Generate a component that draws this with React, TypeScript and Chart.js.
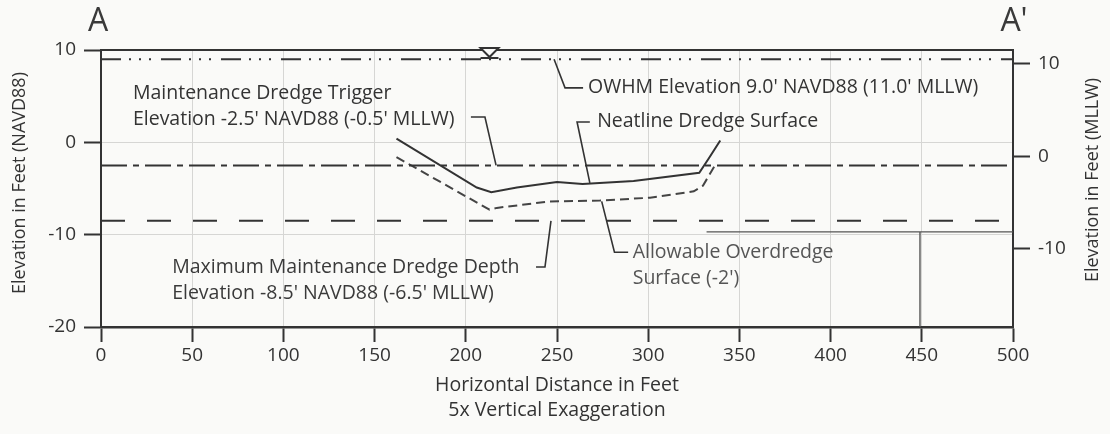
import React, { useEffect, useRef } from 'react';
import { Chart, registerables } from 'chart.js';

Chart.register(...registerables);

// ---- axis ticks ----
const xTickValues = [0, 50, 100, 150, 200, 250, 300, 350, 400, 450, 500];
const leftTickValues = [-20, -10, 0, 10];
const rightTickValues = [-10, 0, 10];

// ---- reference elevation lines (NAVD88) ----
const owhmX = [0, 500];
const owhmY = [9, 9];
const triggerX = [0, 500];
const triggerY = [-2.5, -2.5];
const maxDepthX = [0, 500];
const maxDepthY = [-8.5, -8.5];

// ---- dredge surfaces ----
const neatlineX = [162, 206, 214, 228, 250, 264, 292, 328, 333, 339.5];
const neatlineY = [0.4, -4.9, -5.4, -4.9, -4.3, -4.5, -4.2, -3.3, -1.8, 0.2];
const overdredgeX = [162, 213, 217, 246, 273.5, 301, 325, 330, 337.5];
const overdredgeY = [-1.6, -7.3, -7.1, -6.4, -6.3, -6.0, -5.3, -4.7, -2.2];

// ---- background structure lines ----
const structureX = [332, 500];
const structureY = [-9.7, -9.7];
const wallX = [449, 449];
const wallY = [-9.7, -20];

// ---- annotations (data units) ----
const annoText = [
  ['Maintenance Dredge Trigger', "Elevation -2.5' NAVD88 (-0.5' MLLW)"],
  ["OWHM Elevation 9.0' NAVD88 (11.0' MLLW)"],
  ['Neatline Dredge Surface'],
  ['Allowable Overdredge', "Surface (-2')"],
  ['Maximum Maintenance Dredge Depth', "Elevation -8.5' NAVD88 (-6.5' MLLW)"],
];
const annoX = [17.5, 267, 272, 291.5, 39];
const annoY = [5.3, 5.9, 2.3, -11.9, -13.6];
const annoColor = ['#333', '#333', '#333', '#555', '#3a3a3a'];

const leaderX = [
  [202.8, 210.5, 216.6],
  [264.3, 254.4, 248.4],
  [268, 261, 268],
  [289, 281.5, 274.5],
  [238.5, 243.4, 246.7],
];
const leaderY = [
  [2.74, 2.74, -2.5],
  [5.9, 5.9, 9.0],
  [2.2, 2.2, -4.4],
  [-11.9, -11.9, -6.4],
  [-13.5, -13.5, -8.5],
];

const waterMarkX = 213;
const waterMarkY = 10;

const FONT = "'Open Sans', 'Noto Sans', sans-serif";
const INK = '#333';

const pts = (xs: number[], ys: number[]) => xs.map((x, i) => ({ x, y: ys[i] }));

const decorPlugin = {
  id: 'decor',
  beforeDraw(chart: any) {
    const { ctx, width, height } = chart;
    ctx.save();
    ctx.fillStyle = '#fafaf8';
    ctx.fillRect(0, 0, width, height);
    ctx.restore();
  },
  afterDatasetsDraw(chart: any) {
    const { ctx, chartArea } = chart;
    const xs = chart.scales.x;
    const ys = chart.scales.y;
    ctx.save();
    // top border
    ctx.strokeStyle = INK;
    ctx.lineWidth = 2;
    ctx.beginPath();
    ctx.moveTo(chartArea.left, chartArea.top);
    ctx.lineTo(chartArea.right, chartArea.top);
    ctx.stroke();

    // water level marker
    const mx = xs.getPixelForValue(waterMarkX);
    const my = ys.getPixelForValue(waterMarkY);
    ctx.lineWidth = 2;
    ctx.beginPath();
    ctx.moveTo(mx - 9, my - 2);
    ctx.lineTo(mx + 9, my - 2);
    ctx.lineTo(mx, my + 7);
    ctx.closePath();
    ctx.fillStyle = '#fafaf8';
    ctx.fill();
    ctx.stroke();
    ctx.beginPath();
    ctx.moveTo(mx - 9, my + 8);
    ctx.lineTo(mx + 9, my + 8);
    ctx.stroke();

    // leaders
    ctx.lineWidth = 1.6;
    ctx.strokeStyle = INK;
    leaderX.forEach((lx, i) => {
      ctx.beginPath();
      lx.forEach((x, j) => {
        const px = xs.getPixelForValue(x);
        const py = ys.getPixelForValue(leaderY[i][j]);
        if (j === 0) ctx.moveTo(px, py);
        else ctx.lineTo(px, py);
      });
      ctx.stroke();
    });

    // annotation texts
    ctx.font = `19.5px ${FONT}`;
    ctx.textBaseline = 'middle';
    ctx.textAlign = 'left';
    annoText.forEach((lines, i) => {
      const px = xs.getPixelForValue(annoX[i]);
      const py = ys.getPixelForValue(annoY[i]);
      ctx.fillStyle = annoColor[i];
      lines.forEach((t, k) => ctx.fillText(t, px, py + k * 26));
    });

    // section letters
    ctx.fillStyle = '#3a3a3a';
    ctx.font = `32px ${FONT}`;
    ctx.textAlign = 'center';
    ctx.fillText('A', 98, 22);
    ctx.fillText("A'", 1014, 22);

    // axis titles
    ctx.font = `19.5px ${FONT}`;
    ctx.fillStyle = INK;
    ctx.fillText('Horizontal Distance in Feet', (chartArea.left + chartArea.right) / 2, 385);
    ctx.fillText('5x Vertical Exaggeration', (chartArea.left + chartArea.right) / 2, 410);

    ctx.font = `18px ${FONT}`;
    ctx.save();
    ctx.translate(20, 183);
    ctx.rotate(-Math.PI / 2);
    ctx.fillText('Elevation in Feet (NAVD88)', 0, 0);
    ctx.restore();
    ctx.save();
    ctx.translate(1093, 180);
    ctx.rotate(-Math.PI / 2);
    ctx.fillText('Elevation in Feet (MLLW)', 0, 0);
    ctx.restore();

    ctx.restore();
  },
};

export default function App() {
  const ref = useRef<HTMLCanvasElement>(null);
  useEffect(() => {
    if (!ref.current) return;
    const base = { pointRadius: 0, tension: 0, fill: false, yAxisID: 'y', borderColor: INK };
    const chart = new Chart(ref.current, {
      type: 'line',
      data: {
        datasets: [
          { ...base, label: 'Structure', data: pts(structureX, structureY), borderWidth: 1.4, borderColor: '#555' },
          { ...base, label: 'Wall', data: pts(wallX, wallY), borderWidth: 1.4, borderColor: '#555' },
          { ...base, label: 'OWHM', data: pts(owhmX, owhmY), borderWidth: 2, borderDash: [20, 8, 2, 8, 2, 8, 2, 10] },
          { ...base, label: 'Trigger', data: pts(triggerX, triggerY), borderWidth: 2, borderDash: [26, 6, 6, 6] },
          { ...base, label: 'Max depth', data: pts(maxDepthX, maxDepthY), borderWidth: 2, borderDash: [24, 22] },
          { ...base, label: 'Neatline', data: pts(neatlineX, neatlineY), borderWidth: 2 },
          { ...base, label: 'Overdredge', data: pts(overdredgeX, overdredgeY), borderWidth: 2, borderDash: [9, 5], borderColor: '#444' },
        ],
      },
      options: {
        responsive: false,
        animation: false,
        devicePixelRatio: 1,
        layout: { padding: { top: 50, left: 0, right: 0, bottom: 0 } },
        plugins: { legend: { display: false }, tooltip: { enabled: false } },
        scales: {
          x: {
            type: 'linear',
            min: 0,
            max: 500,
            afterFit: (s: any) => { s.height = 107; },
            afterBuildTicks: (s: any) => { s.ticks = xTickValues.map((v) => ({ value: v })); },
            ticks: { color: INK, font: { family: FONT, size: 19 }, padding: 2, maxRotation: 0, autoSkip: false },
            grid: { color: '#d6d6d4', lineWidth: 1, tickColor: INK, tickLength: 15, tickWidth: 2 },
            border: { color: INK, width: 2.5 },
          },
          y: {
            type: 'linear',
            position: 'left',
            min: -20,
            max: 10,
            afterFit: (s: any) => { s.width = 101; },
            afterBuildTicks: (s: any) => { s.ticks = leftTickValues.map((v) => ({ value: v })); },
            ticks: { color: INK, font: { family: FONT, size: 19 }, padding: 8 },
            grid: { color: '#d6d6d4', lineWidth: 1, tickColor: INK, tickLength: 17, tickWidth: 2 },
            border: { color: INK, width: 2 },
          },
          y2: {
            type: 'linear',
            position: 'right',
            min: -18.5,
            max: 11.5,
            afterFit: (s: any) => { s.width = 97; },
            afterBuildTicks: (s: any) => { s.ticks = rightTickValues.map((v) => ({ value: v })); },
            ticks: { color: INK, font: { family: FONT, size: 19 }, padding: 8 },
            grid: { drawOnChartArea: false, tickColor: INK, tickLength: 17, tickWidth: 2 },
            border: { color: INK, width: 2 },
          },
        },
      },
      plugins: [decorPlugin],
    } as any);
    return () => chart.destroy();
  }, []);
  return (
    <div style={{ position: 'fixed', left: 0, top: 0, width: 1110, height: 434 }}>
      <canvas ref={ref} width={1110} height={434} />
    </div>
  );
}
